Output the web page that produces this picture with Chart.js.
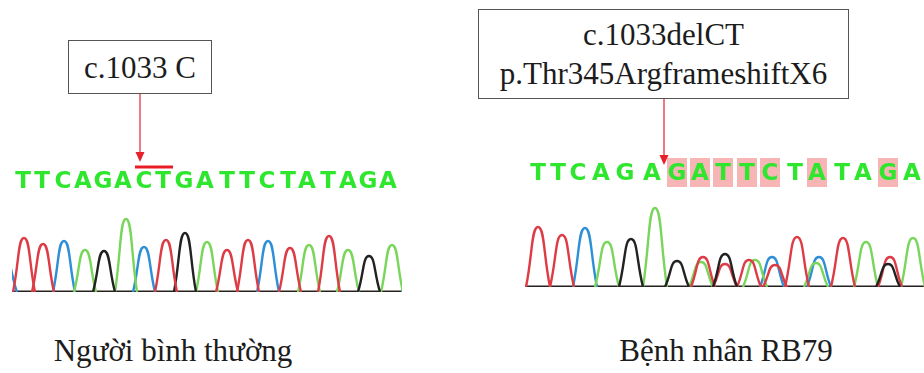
<!DOCTYPE html>
<html>
<head>
<meta charset="utf-8">
<script src="https://cdn.jsdelivr.net/npm/chart.js@4.4.0/dist/chart.umd.min.js"></script>
<style>
  body { margin: 0; background: #fff; width: 924px; height: 373px; position: relative; overflow: hidden;
         font-family: "Liberation Serif", "Times New Roman", serif; }
  .panel { position: absolute; top: 0; height: 300px; }
  .box { position: absolute; border: 1.5px solid #555; box-sizing: border-box; background: #fff;
         display: flex; flex-direction: column; align-items: center; justify-content: center;
         color: #1c1c1c; font-size: 31px; line-height: 39px; z-index: 2; }
  .cap { position: absolute; top: 333px; width: 400px; text-align: center; font-size: 31px;
         line-height: 36px; color: #1c1c1c; }
</style>
</head>
<body>
<div class="panel" style="left:12px;width:390px"><canvas id="chartNormal"></canvas></div>
<div class="panel" style="left:525px;width:399px"><canvas id="chartPatient"></canvas></div>

<div class="box" style="left:68px;top:40px;width:144px;height:54px">c.1033 C</div>
<div class="box" style="left:478px;top:9px;width:371px;height:90px"><div>c.1033delCT</div><div>p.Thr345ArgframeshiftX6</div></div>

<div class="cap" style="left:-27px">Người bình thường</div>
<div class="cap" style="left:526px">Bệnh nhân RB79</div>

<script>
// Người bình thường - base calls
const normalCalls = "TTCAGACTGATTCTATAGA".split("");
const normalCallPos = [23, 42, 63, 83, 103, 123, 144, 163, 184, 205, 227, 247, 267, 288, 307, 328, 348, 368, 388];
// peaks per trace (T red, A green, C blue, G black)
const normalTPos = [24, 43, 166, 227, 248, 290, 329];
const normalTHeight = [54, 48, 52, 42, 52, 44, 56];
const normalAPos = [85, 126, 207, 309, 348, 392];
const normalAHeight = [42, 73, 50, 47, 42, 47];
const normalCPos = [6, 64, 144, 268, 413];
const normalCHeight = [30, 51, 45, 51, 45];
const normalGPos = [104, 185, 369];
const normalGHeight = [41, 59, 36];

// Bệnh nhân RB79 - base calls
const patientCalls = "TTCAGAGATTCTATAGA".split("");
const patientCallPos = [538, 558, 578, 601, 625, 652, 677, 700, 723, 747, 770, 795, 817, 842, 863, 888, 912];
const patientChanged = [6, 7, 8, 9, 10, 12, 15];
const patientTPos = [538, 562, 703, 725, 749, 775, 797, 843, 890];
const patientTHeight = [60, 52, 30, 23, 27, 22, 50, 49, 30];
const patientAPos = [607, 655, 701, 755, 816, 866, 913];
const patientAHeight = [45, 79, 25, 27, 24, 45, 49];
const patientCPos = [585, 772, 819];
const patientCHeight = [59, 30, 30];
const patientGPos = [631, 677, 725, 888];
const patientGHeight = [48, 26, 33, 23];

const traceColors = { T: "#dd3b45", A: "#79d65b", C: "#2e8fd6", G: "#222222" };

function peakSets(pos, height, color, w) {
  return pos.map((p, i) => ({
    data: [{ x: p - w, y: 0 }, { x: p, y: height[i] }, { x: p + w, y: 0 }],
    borderColor: color
  }));
}

function baseSet(color, min, max) {
  return { data: [{ x: min - 30, y: 0 }, { x: max + 30, y: 0 }], borderColor: color };
}

function arrow(ctx, x, y1, y2) {
  ctx.strokeStyle = "#e8202a";
  ctx.fillStyle = "#e8202a";
  ctx.lineWidth = 1.2;
  ctx.beginPath();
  ctx.moveTo(x, y1);
  ctx.lineTo(x, y2 - 8);
  ctx.stroke();
  ctx.beginPath();
  ctx.moveTo(x - 4.5, y2 - 10);
  ctx.lineTo(x + 4.5, y2 - 10);
  ctx.lineTo(x, y2);
  ctx.closePath();
  ctx.fill();
}

// letters, highlights and marks above the traces
const seqPlugin = {
  id: "seq",
  afterDatasetsDraw(chart, args, o) {
    const ctx = chart.ctx;
    const xs = chart.scales.x, ys = chart.scales.y;
    ctx.save();
    (o.changed || []).forEach(i => {
      const cx = xs.getPixelForValue(o.pos[i]);
      const top = ys.getPixelForValue(o.boxTop), bot = ys.getPixelForValue(o.boxBottom);
      ctx.fillStyle = "#f8b5b5";
      ctx.fillRect(cx - 10, top, 20, bot - top);
    });
    ctx.font = "bold 23px 'DejaVu Sans', Arial, sans-serif";
    ctx.fillStyle = "#2fe62f";
    ctx.textAlign = "center";
    ctx.textBaseline = "middle";
    const ly = ys.getPixelForValue(o.letterY);
    o.calls.forEach((c, i) => ctx.fillText(c, xs.getPixelForValue(o.pos[i]), ly));
    if (o.bar) {
      const by = ys.getPixelForValue(o.bar.y);
      ctx.fillStyle = "#e81c24";
      ctx.fillRect(xs.getPixelForValue(o.pos[o.bar.from]) - 9, by - 1.5,
                   xs.getPixelForValue(o.pos[o.bar.to]) - xs.getPixelForValue(o.pos[o.bar.from]) + 19, 3);
    }
    if (o.arrow) {
      arrow(ctx, xs.getPixelForValue(o.arrow.x), ys.getPixelForValue(o.arrow.from), ys.getPixelForValue(o.arrow.to));
    }
    ctx.restore();
  }
};

function makeChart(id, sets, xmin, xmax, ymax, padBottom, seq) {
  new Chart(document.getElementById(id), {
    type: "scatter",
    data: { datasets: sets },
    options: {
      responsive: true,
      maintainAspectRatio: false,
      animation: false,
      layout: { padding: { left: 0, right: 0, top: 0, bottom: padBottom } },
      elements: {
        line: { borderWidth: 2.4, tension: 0.55, fill: false },
        point: { radius: 0 }
      },
      datasets: { scatter: { showLine: true } },
      scales: {
        x: { type: "linear", min: xmin, max: xmax, display: false },
        y: { type: "linear", min: 0, max: ymax, display: false }
      },
      plugins: { legend: { display: false }, tooltip: { enabled: false }, seq: seq }
    },
    plugins: [seqPlugin]
  });
}

// first dataset is painted last (on top)
const normalSets = [
  ...peakSets(normalTPos, normalTHeight, traceColors.T, 11),
  ...peakSets(normalGPos, normalGHeight, traceColors.G, 11),
  ...peakSets(normalAPos, normalAHeight, traceColors.A, 11),
  ...peakSets(normalCPos, normalCHeight, traceColors.C, 11),
  baseSet(traceColors.G, 12, 402), baseSet(traceColors.T, 12, 402),
  baseSet(traceColors.A, 12, 402), baseSet(traceColors.C, 12, 402)
];
makeChart("chartNormal", normalSets, 12, 402, 292, 8, {
  calls: normalCalls, pos: normalCallPos, letterY: 110,
  bar: { from: 6, to: 7, y: 125 },
  arrow: { x: 140, from: 198, to: 130 }
});

const patientSets = [
  ...peakSets(patientGPos, patientGHeight, traceColors.G, 12),
  ...peakSets(patientTPos, patientTHeight, traceColors.T, 12),
  ...peakSets(patientAPos, patientAHeight, traceColors.A, 12),
  ...peakSets(patientCPos, patientCHeight, traceColors.C, 12),
  baseSet(traceColors.G, 525, 924), baseSet(traceColors.T, 525, 924),
  baseSet(traceColors.C, 525, 924), baseSet(traceColors.A, 525, 924)
];
makeChart("chartPatient", patientSets, 525, 924, 287, 13, {
  calls: patientCalls, pos: patientCallPos, letterY: 113,
  changed: patientChanged, boxTop: 129, boxBottom: 100,
  arrow: { x: 664, from: 188, to: 122 }
});
</script>
</body>
</html>
